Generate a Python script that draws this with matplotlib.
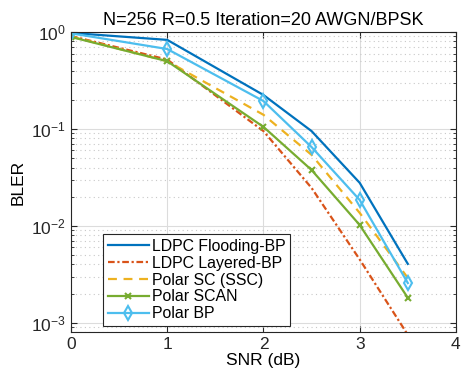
import matplotlib.pyplot as plt
import numpy as np

plt.rcParams['font.family'] = ['Liberation Sans', 'DejaVu Sans']

snr = [0, 1, 2, 2.5, 3, 3.5]

ldpc_flooding = [0.98, 0.83, 0.224, 0.095, 0.0278, 0.00405]
ldpc_layered = [0.91, 0.52, 0.095, 0.0246, 0.0045, 0.00075]
polar_sc = [0.90, 0.50, 0.14, 0.054, 0.0136, 0.0029]
polar_scan = [0.89, 0.50, 0.105, 0.0377, 0.0102, 0.00181]
polar_bp = [0.97, 0.668, 0.194, 0.065, 0.0185, 0.00257]

labels = ['LDPC Flooding-BP', 'LDPC Layered-BP', 'Polar SC (SSC)', 'Polar SCAN', 'Polar BP']

fig = plt.figure(figsize=(4.61, 3.77), dpi=100)
ax = fig.add_axes([0.154, 0.119, 0.835, 0.796])

lw = 1.6
ax.semilogy(snr, ldpc_flooding, color='#0072BD', lw=lw, label=labels[0])
ax.semilogy(snr, ldpc_layered, color='#D95319', lw=lw, ls=(0, (3, 1.2, 1, 1.2)), label=labels[1])
ax.semilogy(snr, polar_sc, color='#EDB120', lw=lw, ls=(0, (4, 3)), label=labels[2])
ax.semilogy(snr, polar_scan, color='#77AC30', lw=lw, marker='x', ms=5, mew=1.5, label=labels[3])
ax.semilogy(snr, polar_bp, color='#4DBEEE', lw=lw, marker='d', ms=7, mew=1.5,
            fillstyle='none', label=labels[4])

ax.set_xlim(0, 4)
ax.set_ylim(8e-4, 1)
ax.set_xticks([0, 1, 2, 3, 4])
ax.set_yticks([1e-3, 1e-2, 1e-1, 1e0])

ax.grid(True, which='major', color='#dcdcdc', lw=0.8)
ax.grid(True, which='minor', axis='y', color='#c8c8c8', ls=(0, (1, 3)), lw=0.8)
ax.set_axisbelow(True)

ax.tick_params(which='both', direction='in', top=True, right=True, labelsize=12.5, colors='#262626')
ax.tick_params(which='major', length=4)
ax.tick_params(which='minor', length=2)
for s in ax.spines.values():
    s.set_color('#262626')
    s.set_linewidth(0.8)

ax.set_xlabel('SNR (dB)', fontsize=12.5, labelpad=1)
ax.set_ylabel('BLER', fontsize=12.5, labelpad=4)
ax.set_title('N=256 R=0.5 Iteration=20 AWGN/BPSK', fontsize=13, pad=5)

leg = ax.legend(loc='lower left', bbox_to_anchor=(0.083, 0.02), fontsize=11.4, fancybox=False,
                framealpha=1, edgecolor='#262626', handlelength=2.6, handletextpad=0.2,
                labelspacing=0.12, borderpad=0.3, borderaxespad=0)
leg.get_frame().set_linewidth(0.8)

fig.savefig('out.png', dpi=100)
